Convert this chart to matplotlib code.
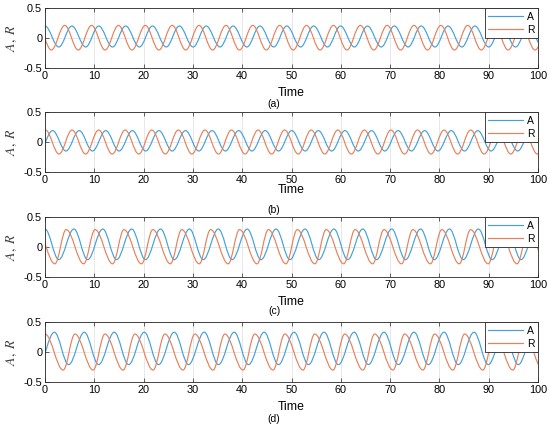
import matplotlib
matplotlib.use('Agg')
import matplotlib.pyplot as plt
from matplotlib.path import Path
from matplotlib.patches import PathPatch
from matplotlib.lines import Line2D

# extrema (time, value): peaks and troughs in turn
# panel (a)
a_A_t = [0, 2.8, 5.45, 8.25, 10.9, 13.7, 16.35, 19.15, 21.8, 24.6, 27.25, 30.05, 32.7,
         35.5, 38.15, 40.95, 43.6, 46.4, 49.05, 51.85, 54.5, 57.3, 59.95, 62.75, 65.4,
         68.2, 70.85, 73.65, 76.3, 79.1, 81.75, 84.55, 87.2, 90.0, 92.65, 95.45, 98.1, 100.9]
a_A_y = [0.2, -0.15] * 19
a_R_t = [-1.45, 1.3, 4.0, 6.75, 9.45, 12.2, 14.9, 17.65, 20.35, 23.1, 25.8, 28.55, 31.25,
         34.0, 36.7, 39.45, 42.15, 44.9, 47.6, 50.35, 53.05, 55.8, 58.5, 61.25, 63.95,
         66.7, 69.4, 72.15, 74.85, 77.6, 80.3, 83.05, 85.75, 88.5, 91.2, 93.95, 96.65,
         99.4, 102.1]
a_R_y = [0.21, -0.2] * 19 + [0.21]

# panel (b)
b_A_t = [-1.14, 1.55, 4.25, 6.94, 9.64, 12.33, 15.03, 17.72, 20.42, 23.11, 25.81, 28.5,
         31.2, 33.89, 36.59, 39.28, 41.98, 44.67, 47.37, 50.06, 52.76, 55.45, 58.15,
         60.84, 63.54, 66.23, 68.93, 71.62, 74.32, 77.01, 79.71, 82.4, 85.1, 87.79,
         90.49, 93.18, 95.88, 98.57, 101.27]
b_A_y = [-0.15, 0.19] * 19 + [-0.15]
b_R_t = [-2.54, 0.1, 2.85, 5.49, 8.24, 10.88, 13.63, 16.27, 19.02, 21.66, 24.41, 27.05,
         29.8, 32.44, 35.19, 37.83, 40.58, 43.22, 45.97, 48.61, 51.36, 54.0, 56.75,
         59.39, 62.14, 64.78, 67.53, 70.17, 72.92, 75.56, 78.31, 80.95, 83.7, 86.34,
         89.09, 91.73, 94.48, 97.12, 99.87, 102.51]
b_R_y = [-0.2, 0.2] * 20

# panel (c)
c_A_t = [0, 2.8, 5.86, 8.66, 11.72, 14.52, 17.58, 20.38, 23.44, 26.24, 29.3, 32.1, 35.16,
         37.96, 41.02, 43.82, 46.88, 49.68, 52.74, 55.54, 58.6, 61.4, 64.46, 67.26, 70.32,
         73.12, 76.18, 78.98, 82.04, 84.84, 87.9, 90.7, 93.76, 96.56, 99.62, 102.42]
c_A_y = [0.3, -0.21] * 18
c_R_t = [-1.56, 2.0, 4.3, 7.86, 10.16, 13.72, 16.02, 19.58, 21.88, 25.44, 27.74, 31.3,
         33.6, 37.16, 39.46, 43.02, 45.32, 48.88, 51.18, 54.74, 57.04, 60.6, 62.9, 66.46,
         68.76, 72.32, 74.62, 78.18, 80.48, 84.04, 86.34, 89.9, 92.2, 95.76, 98.06, 101.62]
c_R_y = [0.29, -0.28] * 18

# panel (d)
d_A_t = [-1.28, 1.9, 4.8, 7.98, 10.88, 14.06, 16.96, 20.14, 23.04, 26.22, 29.12, 32.3,
         35.2, 38.38, 41.28, 44.46, 47.36, 50.54, 53.44, 56.62, 59.52, 62.7, 65.6, 68.78,
         71.68, 74.86, 77.76, 80.94, 83.84, 87.02, 89.92, 93.1, 96.0, 99.18, 102.08]
d_A_y = [-0.21, 0.33] * 17 + [-0.21]
d_R_t = [0, 3.7, 6.08, 9.78, 12.16, 15.86, 18.24, 21.94, 24.32, 28.02, 30.4, 34.1, 36.48,
         40.18, 42.56, 46.26, 48.64, 52.34, 54.72, 58.42, 60.8, 64.5, 66.88, 70.58, 72.96,
         76.66, 79.04, 82.74, 85.12, 88.82, 91.2, 94.9, 97.28, 100.98]
d_R_y = [0.3, -0.3] * 17

panels = [(a_A_t, a_A_y, a_R_t, a_R_y), (b_A_t, b_A_y, b_R_t, b_R_y),
          (c_A_t, c_A_y, c_R_t, c_R_y), (d_A_t, d_A_y, d_R_t, d_R_y)]
panel_names = ['(a)', '(b)', '(c)', '(d)']
x_ticks = [0, 10, 20, 30, 40, 50, 60, 70, 80, 90, 100]
y_ticks = [-0.5, 0, 0.5]
y_ticklabels = ['-0.5', '0', '0.5']

blue = '#45A0DA'
orange = '#E8805A'

plt.rcParams['font.family'] = ['Liberation Sans', 'DejaVu Sans']
plt.rcParams['mathtext.fontset'] = 'stix'


def wave_path(ts, ys):
    # smooth curve through the extrema, drawn as cubic bezier pieces
    verts = [(ts[0], ys[0])]
    codes = [Path.MOVETO]
    for i in range(1, len(ts)):
        w = (ts[i] - ts[i - 1]) * 0.364
        verts += [(ts[i - 1] + w, ys[i - 1]), (ts[i] - w, ys[i]), (ts[i], ys[i])]
        codes += [Path.CURVE4] * 3
    return Path(verts, codes)


fig = plt.figure(figsize=(5.5, 4.3), dpi=100)
bottoms = [0.8419, 0.6, 0.3558, 0.1116]
time_y = [-0.41, -0.30, -0.42, -0.42]
name_y = [-0.60, -0.63, -0.57, -0.62]

for i, (at, ay, rt, ry) in enumerate(panels):
    ax = fig.add_axes([0.0818, bottoms[i], 0.8964, 0.1395])
    ax.add_patch(PathPatch(wave_path(at, ay), fill=False, edgecolor=blue, lw=0.85))
    ax.add_patch(PathPatch(wave_path(rt, ry), fill=False, edgecolor=orange, lw=0.85))
    ax.set_xlim(0, 100)
    ax.set_ylim(-0.5, 0.5)
    ax.set_xticks(x_ticks)
    ax.set_yticks(y_ticks)
    ax.set_yticklabels(y_ticklabels)
    ax.tick_params(direction='in', top=True, right=True, length=3, width=0.5,
                   labelsize=7.8, pad=2, colors='#262626')
    ax.tick_params(labelcolor='black')
    for sp in ax.spines.values():
        sp.set_linewidth(0.6)
        sp.set_color('#262626')
    ax.grid(True, color='#DEDEDE', lw=0.5)
    ax.set_axisbelow(True)
    ax.set_ylabel(r'$A,\ R$', fontsize=10, labelpad=3, color='#404040')
    ax.text(0.5, time_y[i], 'Time', transform=ax.transAxes, ha='center', va='center',
            fontsize=8.8)
    ax.text(0.465, name_y[i], panel_names[i], transform=ax.transAxes, ha='center',
            va='center', fontsize=7.5)
    handles = [Line2D([], [], color=blue, lw=0.85, label='A'),
               Line2D([], [], color=orange, lw=0.85, label='R')]
    leg = ax.legend(handles=handles, loc='upper right', fontsize=7.5, borderaxespad=0,
                    fancybox=False, framealpha=1, edgecolor='#262626',
                    handlelength=3.3, handletextpad=0.4, labelspacing=0.3, borderpad=0.35)
    leg.get_frame().set_linewidth(0.6)

plt.savefig('out.png', dpi=100)
